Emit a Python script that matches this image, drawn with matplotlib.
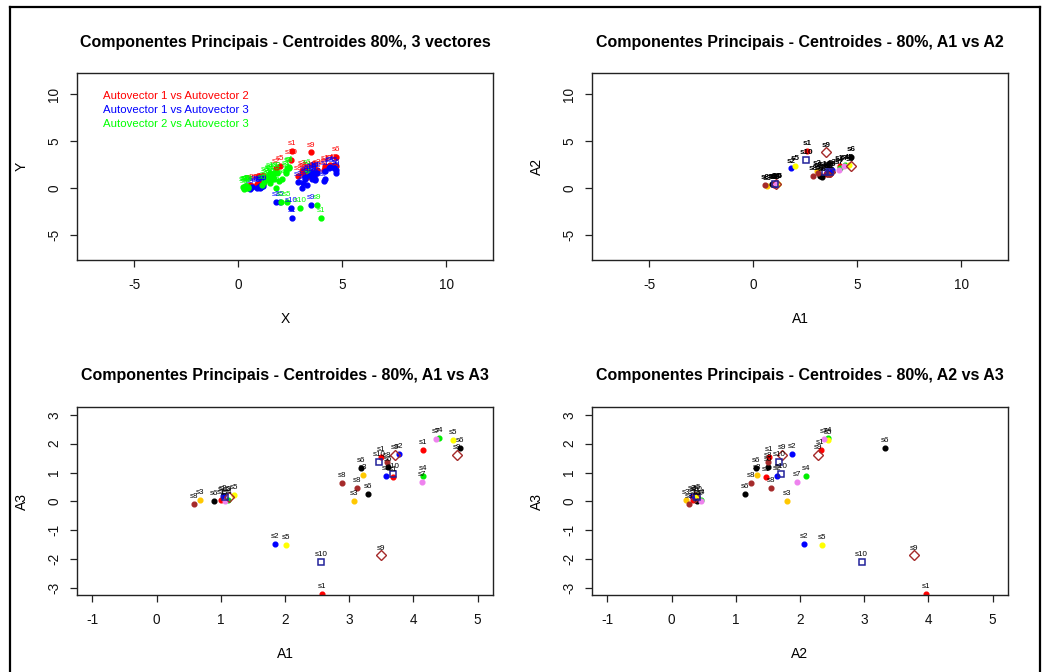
import matplotlib
matplotlib.use("Agg")
import matplotlib.pyplot as plt
from matplotlib.lines import Line2D

plt.rcParams['font.family'] = ['Liberation Sans', 'DejaVu Sans']

# Centroids (80%) of each sample on the first three principal components
sample = ["s1", "s1", "s1", "s1", "s1",
          "s2", "s2", "s2", "s2",
          "s3", "s3", "s3",
          "s4", "s4", "s4",
          "s5", "s5", "s5",
          "s6", "s6", "s6", "s6", "s6",
          "s7", "s7", "s7",
          "s8", "s8", "s8", "s8",
          "s9", "s9", "s9", "s9",
          "s10", "s10", "s10", "s10"]
a1 = [1.00, 2.58, 3.49, 3.68, 4.15,
      1.03, 1.84, 3.57, 3.78,
      0.68, 3.08, 3.21,
      1.11, 4.15, 4.40,
      1.20, 2.02, 4.62,
      0.90, 3.19, 3.30, 3.61, 4.72,
      1.06, 4.13, 4.35,
      0.59, 2.89, 3.12, 3.59,
      1.12, 3.49, 3.71, 4.68,
      1.06, 2.56, 3.47, 3.68]
a2 = [0.34, 3.96, 1.52, 1.47, 2.32,
      0.32, 2.06, 1.64, 1.88,
      0.22, 1.80, 1.33,
      0.46, 2.10, 2.44,
      0.40, 2.35, 2.43,
      0.39, 1.31, 1.14, 1.50, 3.32,
      0.46, 1.95, 2.37,
      0.27, 1.23, 1.55, 1.50,
      0.36, 3.77, 1.72, 2.28,
      0.39, 2.96, 1.68, 1.71]
a3 = [0.06, -3.21, 1.55, 0.86, 1.79,
      0.20, -1.48, 0.89, 1.63,
      0.06, 0.02, 0.93,
      0.06, 0.89, 2.19,
      0.23, -1.52, 2.12,
      0.02, 1.15, 0.27, 1.19, 1.86,
      0.03, 0.68, 2.15,
      -0.08, 0.65, 0.46, 1.35,
      0.17, -1.87, 1.62, 1.60,
      0.17, -2.11, 1.38, 0.94]

legend_text = ["Autovector 1 vs Autovector 2",
               "Autovector 1 vs Autovector 3",
               "Autovector 2 vs Autovector 3"]
legend_color = ["#ff0000", "#0000ff", "#00ff00"]

# Marker style of each sample
style = {
    "s1": ("o", "#ff0000", True),
    "s2": ("o", "#0000ff", True),
    "s3": ("o", "#ffc800", True),
    "s4": ("o", "#00ee00", True),
    "s5": ("o", "#ffff00", True),
    "s6": ("o", "#000000", True),
    "s7": ("o", "#ee82ee", True),
    "s8": ("o", "#a52a2a", True),
    "s9": ("D", "#a52a2a", False),
    "s10": ("s", "#22229a", False),
}

W, H = 1042, 672
fig = plt.figure(figsize=(W / 100, H / 100), dpi=100)


def panel(left, top, right, bottom):
    return fig.add_axes([left / W, 1 - bottom / H, (right - left) / W, (bottom - top) / H])


def setup(ax, xlim, ylim, xticks, yticks, title, xlabel, ylabel):
    ax.set_xlim(*xlim)
    ax.set_ylim(*ylim)
    ax.set_xticks(xticks)
    ax.set_yticks(yticks)
    ax.set_xticklabels([str(t) for t in xticks])
    ax.set_yticklabels([str(t) for t in yticks])
    for s in ax.spines.values():
        s.set_linewidth(1.0)
        s.set_color("#222222")
    ax.tick_params(axis="both", direction="out", length=5, width=0.9,
                   color="#222222", labelsize=9.8, labelcolor="#111111")
    ax.tick_params(axis="x", pad=8)
    ax.tick_params(axis="y", pad=6.5, labelrotation=90)
    for t in ax.get_yticklabels():
        t.set_va("center")
    ax.text(0.5, 1 + 31 / 187, title, transform=ax.transAxes, ha="center",
            va="center", fontsize=11.5, fontweight="bold")
    ax.text(0.5, -59 / 187, xlabel, transform=ax.transAxes, ha="center",
            va="center", fontsize=10)
    ax.text(-55 / 416, 0.5, ylabel, transform=ax.transAxes, ha="center",
            va="center", fontsize=10, rotation=90)


def label(ax, x, y, txt, color, weight="normal"):
    ax.annotate(txt, (x, y), xytext=(0, 2.8), textcoords="offset points",
                ha="center", va="bottom", fontsize=5.8, color=color,
                fontweight=weight, annotation_clip=False)


def draw_samples(ax, xs, ys, label_weight="normal"):
    for s, x, y in zip(sample, xs, ys):
        mk, col, filled = style[s]
        if filled:
            ax.plot(x, y, marker=mk, ms=3.4, color=col, mec=col, ls="none")
        elif mk == "s":
            ax.plot(x, y, marker=mk, ms=5.0, mfc="none", mec=col, mew=1.1, ls="none")
        else:
            ax.plot(x, y, marker=mk, ms=4.6, mfc="none", mec=col, mew=1.0, ls="none")
        label(ax, x, y, s, "black", label_weight)


# Top left: the three pairs of components together
ax1 = panel(77, 73, 493, 260)
setup(ax1, (-7.74, 12.24), (-7.7, 12.24), [-5, 0, 5, 10], [-5, 0, 5, 10],
      "Componentes Principais - Centroides 80%, 3 vectores", "X", "Y")
pairs = [(a1, a2), (a1, a3), (a2, a3)]
for (xs, ys), col in zip(pairs, legend_color):
    ax1.plot(xs, ys, "o", ms=3.5, color=col, ls="none")
    for s, x, y in zip(sample, xs, ys):
        label(ax1, x, y, s, col)
for i, (txt, col) in enumerate(zip(legend_text, legend_color)):
    ax1.text((103 - 77) / 416, 1 - (96 + 14 * i - 73) / 187, txt,
             transform=ax1.transAxes, ha="left", va="center",
             fontsize=8.2, color=col)

# Top right: A1 vs A2
ax2 = panel(592, 73, 1008, 260)
setup(ax2, (-7.74, 12.24), (-7.7, 12.24), [-5, 0, 5, 10], [-5, 0, 5, 10],
      "Componentes Principais - Centroides - 80%, A1 vs A2", "A1", "A2")
draw_samples(ax2, a1, a2, label_weight="bold")

# Bottom left: A1 vs A3
ax3 = panel(77, 407, 493, 595)
setup(ax3, (-1.24, 5.24), (-3.24, 3.27), [-1, 0, 1, 2, 3, 4, 5], [-3, -2, -1, 0, 1, 2, 3],
      "Componentes Principais - Centroides - 80%, A1 vs A3", "A1", "A3")
draw_samples(ax3, a1, a3)

# Bottom right: A2 vs A3
ax4 = panel(592, 407, 1008, 595)
setup(ax4, (-1.24, 5.24), (-3.24, 3.27), [-1, 0, 1, 2, 3, 4, 5], [-3, -2, -1, 0, 1, 2, 3],
      "Componentes Principais - Centroides - 80%, A2 vs A3", "A2", "A3")
draw_samples(ax4, a2, a3)

# Outer frame of the window
fx = lambda px: px / W
fy = lambda py: 1 - py / H
for xs, ys in [([10, 10], [7, 672]), ([10, 1040], [7, 7]), ([1040, 1040], [7, 672])]:
    fig.add_artist(Line2D([fx(v) for v in xs], [fy(v) for v in ys],
                          transform=fig.transFigure, color="black", lw=1.6))

fig.savefig("out.png", dpi=100)
